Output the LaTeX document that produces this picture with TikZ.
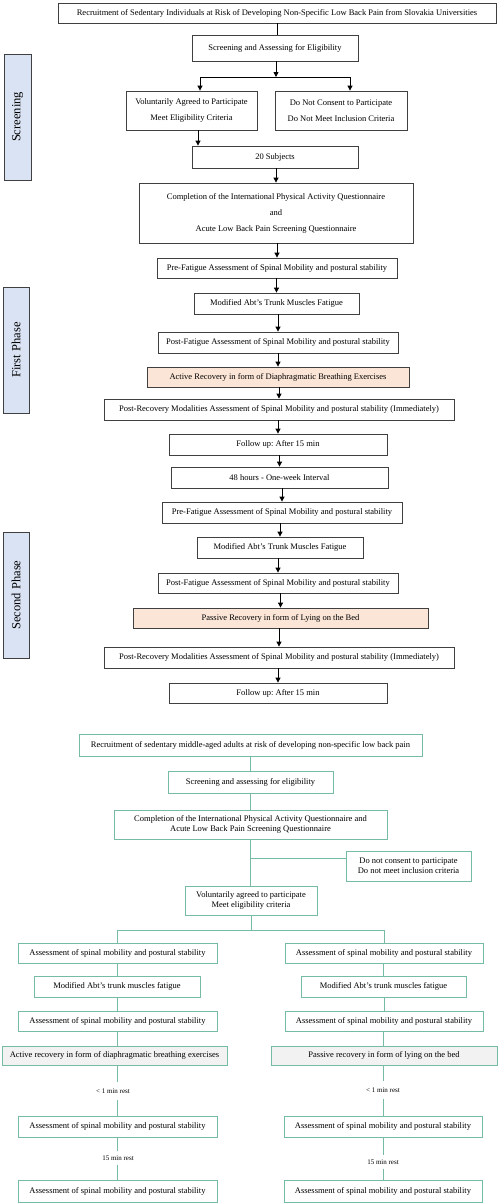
\documentclass[tikz,border=0pt]{standalone}
\usepackage{fontspec}
\setmainfont{Liberation Serif}
\usetikzlibrary{arrows.meta}
\definecolor{gline}{RGB}{64,64,64}
\definecolor{tealc}{RGB}{118,188,165}
\definecolor{peach}{RGB}{251,229,214}
\definecolor{lav}{RGB}{218,227,243}
\definecolor{lgray}{RGB}{242,242,242}
\frenchspacing
\begin{document}
\begin{tikzpicture}[x=1pt,y=1pt,
  wh/.style 2 args={minimum width=#1, minimum height=#2},
  box/.style={draw, inner sep=0pt, align=center, font=\fontsize{8.5}{10}\selectfont, text=black},
  gbox/.style={box, draw=gline, line width=0.8pt},
  tbox/.style={box, draw=tealc, line width=0.9pt},
  arr/.style={draw=black, line width=0.8pt, -{Triangle[width=5pt,length=5pt]}},
  gln/.style={draw=black, line width=0.8pt},
  tln/.style={draw=tealc, line width=0.9pt},
  side/.style={draw=gline, fill=lav, line width=1pt, inner sep=0pt, rotate=90, font=\fontsize{12.5}{14}\selectfont},
  rest/.style={font=\fontsize{7}{8}\selectfont, inner xsep=1pt, inner ysep=6pt},
]
\useasboundingbox (0,0) rectangle (498,-1203);

% ---------------- Part A ----------------
\node[side, wh={126}{27}] (L1) at (17.5,-117) {Screening};
\node[side, wh={126}{26}] (L2) at (16,-350) {First Phase};
\node[side, wh={126}{26}] (L3) at (16,-595) {Second Phase};

\node[gbox, wh={438}{20}] (a1) at (277,-13) {Recruitment of Sedentary Individuals at Risk of Developing Non-Specific Low Back Pain from Slovakia Universities};
\node[gbox, wh={166}{26}] (a2) at (275,-48) {Screening and Assessing for Eligibility};
\node[gbox, wh={131}{39}] (a3) at (191.5,-110.5) {Voluntarily Agreed to Participate\\[6pt]Meet Eligibility Criteria};
\node[gbox, wh={132}{39}] (a4) at (341,-110.5) {Do Not Consent to Participate\\[6pt]Do Not Meet Inclusion Criteria};
\node[gbox, wh={166}{22}] (a5) at (275,-157) {20 Subjects};
\node[gbox, wh={274}{60}] (a6) at (276,-213) {Completion of the International Physical Activity Questionnaire\\[6pt]and\\[6pt]Acute Low Back Pain Screening Questionnaire};
\node[gbox, wh={240}{20}] (a7) at (277,-268) {Pre-Fatigue Assessment of Spinal Mobility and postural stability};
\node[gbox, wh={165}{21}] (a8) at (276.5,-303.5) {Modified Abt's Trunk Muscles Fatigue};
\node[gbox, wh={240}{21}] (a9) at (278,-342.5) {Post-Fatigue Assessment of Spinal Mobility and postural stability};
\node[gbox, fill=peach, wh={262}{20}] (a10) at (278,-377) {Active Recovery in form of Diaphragmatic Breathing Exercises};
\node[gbox, wh={350}{21}] (a11) at (279,-409.5) {Post-Recovery Modalities Assessment of Spinal Mobility and postural stability (Immediately)};
\node[gbox, wh={218}{21}] (a12) at (278,-444.5) {Follow up: After 15 min};
\node[gbox, wh={217}{21}] (a13) at (279.5,-477.5) {48 hours - One-week Interval};
\node[gbox, wh={240}{21}] (a14) at (282,-512.5) {Pre-Fatigue Assessment of Spinal Mobility and postural stability};
\node[gbox, wh={166}{21}] (a15) at (280,-547.5) {Modified Abt's Trunk Muscles Fatigue};
\node[gbox, wh={240}{20}] (a16) at (278,-583) {Post-Fatigue Assessment of Spinal Mobility and postural stability};
\node[gbox, fill=peach, wh={295}{20}] (a17) at (280.5,-618) {Passive Recovery in form of Lying on the Bed};
\node[gbox, wh={350}{21}] (a18) at (279,-657.5) {Post-Recovery Modalities Assessment of Spinal Mobility and postural stability (Immediately)};
\node[gbox, wh={218}{20}] (a19) at (278,-693) {Follow up: After 15 min};

\draw[gln] (a1.south) -- (a1.south |- a2.north);
\coordinate (jA) at (276,-77);
\coordinate (jL) at (200,-77);
\coordinate (jR) at (350,-77);
\draw[arr] (a2.south -| jA) -- (jA);
\draw[gln] (jL) -- (jR);
\draw[arr] (jL) -- (jL |- a3.north);
\draw[arr] (jR) -- (jR |- a4.north);
\draw[arr] ([xshift=6.5pt]a3.south) -- ([xshift=6.5pt]a3.south |- a5.north);
\foreach \p/\q in {a5/a6,a6/a7,a7/a8,a8/a9,a9/a10,a10/a11,a11/a12,a12/a13,a13/a14,a14/a15,a15/a16,a16/a17,a17/a18,a18/a19}
  \draw[arr] (\q.north |- \p.south) -- (\q.north);

% ---------------- Part B ----------------
\node[tbox, wh={343}{22}] (b1) at (250.5,-745) {Recruitment of sedentary middle-aged adults at risk of developing non-specific low back pain};
\node[tbox, wh={165}{22}] (b2) at (250.5,-782) {Screening and assessing for eligibility};
\node[tbox, wh={273}{29}] (b3) at (250.5,-824.5) {Completion of the International Physical Activity Questionnaire and\\Acute Low Back Pain Screening Questionnaire};
\node[tbox, wh={125}{30}] (b4) at (408.5,-866) {Do not consent to participate\\Do not meet inclusion criteria};
\node[tbox, wh={132}{29}] (b5) at (251,-900.5) {Voluntarily agreed to participate\\Meet eligibility criteria};

\node[tbox, wh={199}{20}] (bl1) at (117.5,-953) {Assessment of spinal mobility and postural stability};
\node[tbox, wh={198}{20}] (br1) at (384,-953) {Assessment of spinal mobility and postural stability};
\node[tbox, wh={166}{21}] (bl2) at (117,-986.5) {Modified Abt's trunk muscles fatigue};
\node[tbox, wh={165}{21}] (br2) at (383.5,-986.5) {Modified Abt's trunk muscles fatigue};
\node[tbox, wh={199}{20}] (bl3) at (117.5,-1021) {Assessment of spinal mobility and postural stability};
\node[tbox, wh={198}{20}] (br3) at (384,-1021) {Assessment of spinal mobility and postural stability};
\node[tbox, fill=lgray, wh={225}{19}] (bl4) at (114.5,-1055.5) {Active recovery in form of diaphragmatic breathing exercises};
\node[tbox, fill=lgray, wh={226}{19}] (br4) at (384,-1055.5) {Passive recovery in form of lying on the bed};
\node[tbox, wh={199}{21}] (bl5) at (117.5,-1126.5) {Assessment of spinal mobility and postural stability};
\node[tbox, wh={198}{21}] (br5) at (383,-1126.5) {Assessment of spinal mobility and postural stability};
\node[tbox, wh={199}{22}] (bl6) at (117.5,-1191) {Assessment of spinal mobility and postural stability};
\node[tbox, wh={198}{22}] (br6) at (383,-1191) {Assessment of spinal mobility and postural stability};

\node[rest] (rl1) at (113,-1091) {< 1 min rest};
\node[rest] (rr1) at (383,-1090) {< 1 min rest};
\node[rest, inner ysep=4pt] (rl2) at (118,-1158) {15 min rest};
\node[rest, inner ysep=4pt] (rr2) at (383,-1162) {15 min rest};

\draw[tln] (b1.south) -- (b1.south |- b2.north);
\draw[tln] (b2.south) -- (b2.south |- b3.north);
\draw[tln] (b3.south) -- (b3.south |- b5.north);
\coordinate (jB) at (250.5,-858);
\draw[tln] (jB) -- (jB -| b4.west);
\coordinate (jC) at (251,-930);
\draw[tln] (b5.south) -- (jC);
\draw[tln] (bl1.north) |- (jC) -| (br1.north);
\foreach \p/\q in {bl1/bl2,bl2/bl3,br1/br2,br2/br3}
  \draw[tln] (\q.north |- \p.south) -- (\q.north);
\draw[tln] (bl3.south -| bl5.north) -- (bl4.north -| bl5.north);
\draw[tln] (br3.south -| br5.north) -- (br4.north -| br5.north);
\draw[tln] (bl4.south -| bl5.north) -- (bl5.north |- rl1.north);
\draw[tln] (bl5.north |- rl1.south) -- (bl5.north);
\draw[tln] (br4.south -| br5.north) -- (br5.north |- rr1.north);
\draw[tln] (br5.north |- rr1.south) -- (br5.north);
\draw[tln] (bl5.south) -- (bl5.south |- rl2.north);
\draw[tln] (bl6.north |- rl2.south) -- (bl6.north);
\draw[tln] (br5.south) -- (br5.south |- rr2.north);
\draw[tln] (br6.north |- rr2.south) -- (br6.north);
\end{tikzpicture}
\end{document}
